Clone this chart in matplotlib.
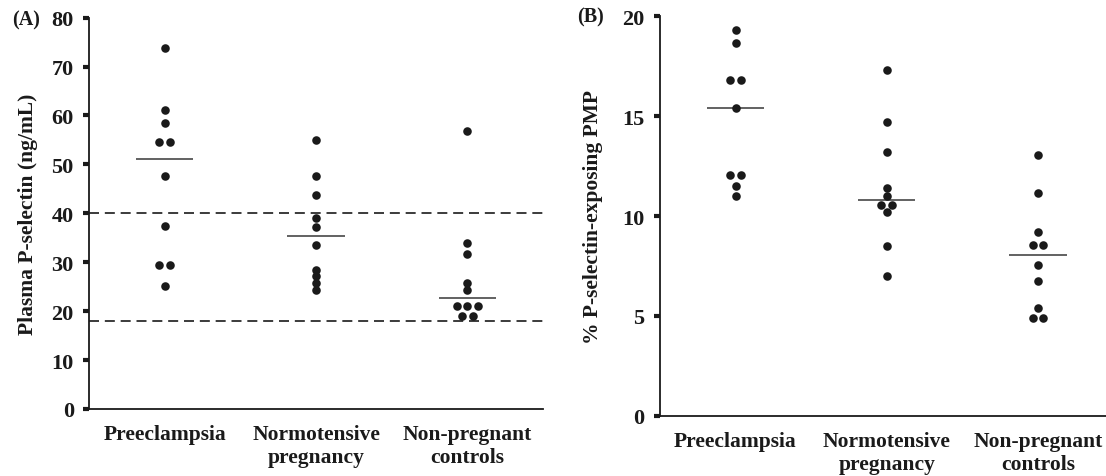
import numpy as np
import matplotlib
matplotlib.use("Agg")
import matplotlib.pyplot as plt

# -----------------------------------------
# data
# -----------------------------------------
groups = ["Preeclampsia", "Normotensive\npregnancy", "Non-pregnant\ncontrols"]

plasma_pe = [73.8, 61.2, 58.4, 54.5, 54.5, 47.7, 37.5, 29.4, 29.4, 25.2]
plasma_np = [55.0, 47.7, 43.8, 39.1, 37.2, 33.5, 28.5, 27.1, 25.8, 24.4]
plasma_ctrl = [56.8, 33.9, 31.6, 25.8, 24.3, 21.1, 21.1, 21.1, 19.1, 19.1]
plasma_refs = [40, 18]

pmp_pe = [19.33, 18.65, 16.81, 16.81, 15.39, 12.05, 12.05, 11.52, 11.02]
pmp_np = [17.33, 14.71, 13.2, 11.42, 11.02, 10.55, 10.55, 10.19, 8.48, 6.98]
pmp_ctrl = [13.06, 11.14, 9.18, 8.55, 8.55, 7.56, 6.75, 5.38, 4.88, 4.88]

ink = "#1a1a1a"
plt.rcParams["font.family"] = ["Liberation Serif", "DejaVu Serif"]
plt.rcParams["font.weight"] = "bold"


def swarm_x(center, values, step=0.07):
    # points sharing a value sit side by side
    xs = []
    seen = {}
    for v in values:
        n = values.count(v)
        k = seen.get(v, 0)
        seen[v] = k + 1
        xs.append(center + (k - (n - 1) / 2) * step)
    return xs


def dot_panel(ax, series, ymax, yticks, ylabel, labelpad):
    for i, vals in enumerate(series, start=1):
        ax.scatter(swarm_x(i, vals), vals, s=38, color=ink, zorder=3, linewidths=0)
        ax.hlines(np.median(vals), i - 0.19, i + 0.19, color="#555555", lw=1.3, zorder=2)
    ax.set_ylim(0, ymax)
    ax.set_yticks(yticks)
    ax.set_xticks([1, 2, 3])
    ax.set_xticklabels(groups, fontsize=15.5, fontweight="bold", color=ink, linespacing=1.2)
    for s in ["top", "right"]:
        ax.spines[s].set_visible(False)
    for s in ["left", "bottom"]:
        ax.spines[s].set_linewidth(1.3)
        ax.spines[s].set_color(ink)
    ax.tick_params(axis="y", length=4, width=3, direction="out", labelsize=16,
                   colors=ink, pad=7)
    ax.tick_params(axis="x", length=0, pad=11)
    ax.set_ylabel(ylabel, fontsize=15.5, fontweight="bold", color=ink, labelpad=labelpad)
    for lab in ax.get_yticklabels():
        lab.set_fontweight("bold")


fig = plt.figure(figsize=(11.06, 4.77), dpi=100)

# -----------------------------------------
# panel A
# -----------------------------------------
ax1 = fig.add_axes([0.0805, 0.1405, 0.4105, 0.8205])
dot_panel(ax1, [plasma_pe, plasma_np, plasma_ctrl], 80, range(0, 81, 10),
          "Plasma P-selectin (ng/mL)", 10)
ax1.set_xlim(0.5, 3.5)
for r in plasma_refs:
    ax1.axhline(r, color=ink, lw=1.2, ls=(0, (6, 3.5)), zorder=1)
fig.text(0.011, 0.958, "(A)", fontsize=14.5, fontweight="bold", color=ink, va="center")

# -----------------------------------------
# panel B
# -----------------------------------------
ax2 = fig.add_axes([0.5967, 0.1264, 0.4033, 0.8373])
dot_panel(ax2, [pmp_pe, pmp_np, pmp_ctrl], 20, range(0, 21, 5),
          "% P-selectin-exposing PMP", 14)
ax2.set_xlim(0.5, 3.45)
fig.text(0.522, 0.963, "(B)", fontsize=14.5, fontweight="bold", color=ink, va="center")

fig.savefig("out.png", dpi=100)
